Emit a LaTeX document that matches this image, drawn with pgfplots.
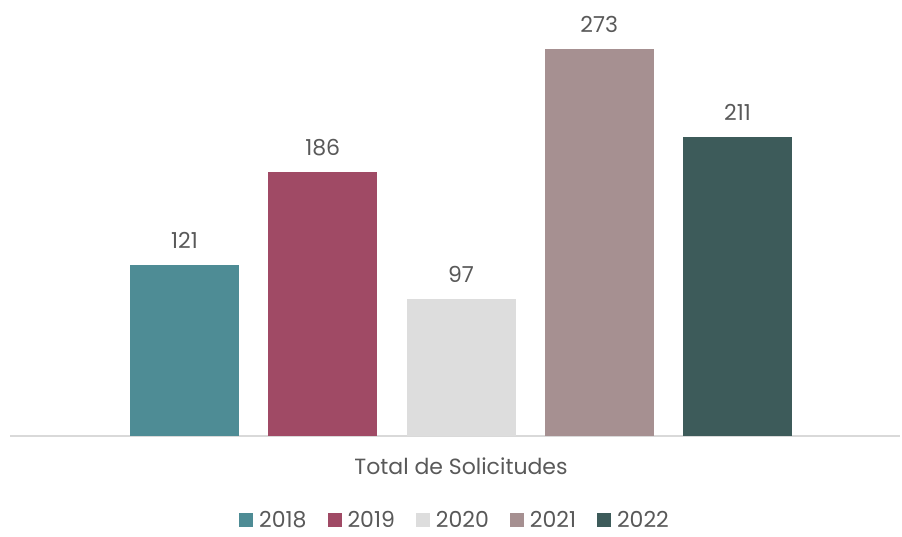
\documentclass[border=0pt]{standalone}
\usepackage{pgfplots}
\pgfplotsset{compat=1.18}
\usepackage{fontspec}
\setmainfont{Poppins}
\definecolor{c18}{HTML}{4E8C95}
\definecolor{c19}{HTML}{A04A65}
\definecolor{c20}{HTML}{DDDDDD}
\definecolor{c21}{HTML}{A69091}
\definecolor{c22}{HTML}{3D5B5A}
\definecolor{txt}{HTML}{595959}
\definecolor{axl}{HTML}{D9D9D9}
\begin{document}
\begin{tikzpicture}
\useasboundingbox (-10pt,-100pt) rectangle (892pt,436pt);
\begin{axis}[
  at={(0pt,0pt)}, anchor=south west,
  scale only axis, width=890pt, height=436pt,
  xmin=-1.262, xmax=5.175, ymin=0, ymax=307.7,
  ybar, bar width=109pt, bar shift=0pt,
  axis y line=none, axis x line*=bottom,
  axis line style={axl, line width=1.5pt, -},
  xtick={2}, xticklabels={Total de Solicitudes},
  major tick length=0pt,
  xticklabel style={font=\fontsize{22}{26}\selectfont, text=txt, yshift=-18pt},
  nodes near coords,
  every node near coord/.append style={font=\fontsize{22}{26}\selectfont, text=txt, yshift=13pt},
  /pgf/number format/assume math mode=true,
  legend columns=5,
  legend style={draw=none, at={(0.5,-0.193)}, anchor=center, font=\fontsize{22}{26}\selectfont, text=txt,
    /tikz/every odd column/.append style={column sep=4pt},
    /tikz/every even column/.append style={column sep=19pt}},
  legend image code/.code={\fill[#1] (0pt,-7pt) rectangle (14pt,7pt);},
  clip=false,
]
\addplot[fill=c18, draw=none] coordinates {(0,121)};
\addlegendentry{2018}
\addplot[fill=c19, draw=none] coordinates {(1,186)};
\addlegendentry{2019}
\addplot[fill=c20, draw=none] coordinates {(2,97)};
\addlegendentry{2020}
\addplot[fill=c21, draw=none] coordinates {(3,273)};
\addlegendentry{2021}
\addplot[fill=c22, draw=none] coordinates {(4,211)};
\addlegendentry{2022}
\end{axis}
\end{tikzpicture}
\end{document}
